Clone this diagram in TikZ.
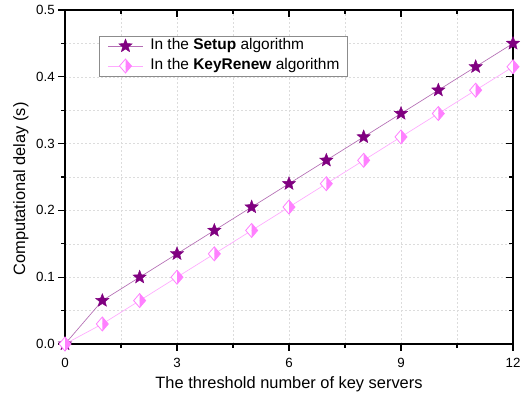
\documentclass[tikz,border=0pt]{standalone}
\usepackage{fontspec}
\setmainfont{Liberation Sans}
\usetikzlibrary{shapes.geometric}
\definecolor{setupline}{HTML}{B46EB4}
\definecolor{setupmark}{HTML}{800080}
\definecolor{renewline}{HTML}{FFAAFF}
\definecolor{renewmark}{HTML}{FF80FF}
\definecolor{gridgray}{HTML}{DCDCDC}
\definecolor{legendframe}{HTML}{8C8C8C}
\tikzset{
  frame/.style={draw=black, line width=1pt},
  gridline/.style={draw=gridgray, line width=0.4pt, dash pattern=on 1.5pt off 1.5pt},
  majortick/.style={draw=black, line width=0.8pt},
  minortick/.style={draw=black, line width=0.8pt},
  ticklabel/.style={inner sep=0pt, font=\fontsize{10}{12}\selectfont},
  axislabel/.style={inner sep=0pt, font=\fontsize{12.3}{14}\selectfont},
  legendtext/.style={inner sep=0pt, anchor=west, font=\fontsize{11.6}{13}\selectfont},
  setupcurve/.style={draw=setupline, line width=0.5pt},
  renewcurve/.style={draw=renewline, line width=0.5pt},
  starmark/.style={
    star, star points=5, star point ratio=2.3, fill=setupmark, draw=setupmark,
    line width=0.3pt, minimum size=10.5pt, inner sep=0pt
  },
  halfdiamond/.pic={
    \fill[white] (0,5.25pt) -- (-4.5pt,0) -- (0,-5.25pt) -- cycle;
    \fill[renewmark] (0,5.25pt) -- (4.5pt,0) -- (0,-5.25pt) -- cycle;
    \draw[renewmark, line width=0.6pt] (0,5.25pt) -- (4.5pt,0) -- (0,-5.25pt) -- (-4.5pt,0) -- cycle;
  }
}

\begin{document}
\begin{tikzpicture}[x=0.75pt,y=0.75pt]
  \useasboundingbox (0,0) rectangle (527,401);

  % data area: 1 unit on x is 37.33px, 0.1 s on y is 66.8px
  \begin{scope}[shift={(65,57)}, x=28pt, y=501pt]
    % grid
    \foreach \gx in {1.5,3,4.5,6,7.5,9,10.5}
      \draw[gridline] (\gx,0) -- (\gx,0.5);
    \foreach \gy in {0.05,0.1,0.15,0.2,0.25,0.3,0.35,0.4,0.45}
      \draw[gridline] (0,\gy) -- (12,\gy);

    % ticks, outward on bottom/left, inward on top/right
    \foreach \tx in {0,3,6,9,12} {
      \draw[majortick] (\tx,0) -- ++(0,-5pt);
      \draw[majortick] (\tx,0.5) -- ++(0,-5pt);
    }
    \foreach \tx in {1.5,4.5,7.5,10.5} {
      \draw[minortick] (\tx,0) -- ++(0,-3pt);
      \draw[minortick] (\tx,0.5) -- ++(0,-3pt);
    }
    \foreach \ty in {0,0.1,0.2,0.3,0.4,0.5} {
      \draw[majortick] (0,\ty) -- ++(-5pt,0);
      \draw[majortick] (12,\ty) -- ++(-5pt,0);
    }
    \foreach \ty in {0.05,0.15,0.25,0.35,0.45} {
      \draw[minortick] (0,\ty) -- ++(-3pt,0);
      \draw[minortick] (12,\ty) -- ++(-3pt,0);
    }

    % tick labels
    \foreach \tx in {0,3,6,9,12}
      \node[ticklabel] (xl\tx) at ([yshift=-14pt]\tx,0) {\tx};
    \foreach \ty/\tl [count=\i] in {0/0.0,0.1/0.1,0.2/0.2,0.3/0.3,0.4/0.4,0.5/0.5}
      \node[ticklabel, anchor=east] (yl\i) at ([xshift=-7.5pt]0,\ty) {\tl};

    % frame
    \draw[frame] (0,0) rectangle (12,0.5);

    % curves
    \draw[renewcurve] (0,0) -- (1,0.03) -- (2,0.065) -- (3,0.1) -- (4,0.135)
      -- (5,0.17) -- (6,0.205) -- (7,0.24) -- (8,0.275) -- (9,0.31)
      -- (10,0.345) -- (11,0.38) -- (12,0.415);
    \draw[setupcurve] (0,0) -- (1,0.065) -- (2,0.1) -- (3,0.135) -- (4,0.17)
      -- (5,0.205) -- (6,0.24) -- (7,0.275) -- (8,0.31) -- (9,0.345)
      -- (10,0.38) -- (11,0.415) -- (12,0.45);

    % markers
    \foreach \mx/\my in {0/0,1/0.065,2/0.1,3/0.135,4/0.17,5/0.205,6/0.24,
                         7/0.275,8/0.31,9/0.345,10/0.38,11/0.415,12/0.45}
      \node[starmark] (s\mx) at (\mx,\my) {};
    \foreach \mx/\my in {0/0,1/0.03,2/0.065,3/0.1,4/0.135,5/0.17,6/0.205,
                         7/0.24,8/0.275,9/0.31,10/0.345,11/0.38,12/0.415}
      \pic at (\mx,\my) {halfdiamond};
  \end{scope}

  % axis labels
  \node[axislabel] (xtitle) at (289,17) {The threshold number of key servers};
  \node[axislabel, rotate=90] (ytitle) at (21,212) {Computational delay (s)};

  % legend
  \draw[draw=legendframe, fill=white, line width=0.6pt] (99,325) rectangle (347,365);
  \draw[setupcurve] (108,355) -- (143,355);
  \node[starmark] (legs) at (125.5,355) {};
  \node[legendtext] (legsetup) at (150,355) {In the \textbf{Setup} algorithm};
  \draw[renewcurve] (108,335) -- (143,335);
  \pic at (125.5,335) {halfdiamond};
  \node[legendtext] (legrenew) at (150,335) {In the \textbf{KeyRenew} algorithm};
\end{tikzpicture}
\end{document}
